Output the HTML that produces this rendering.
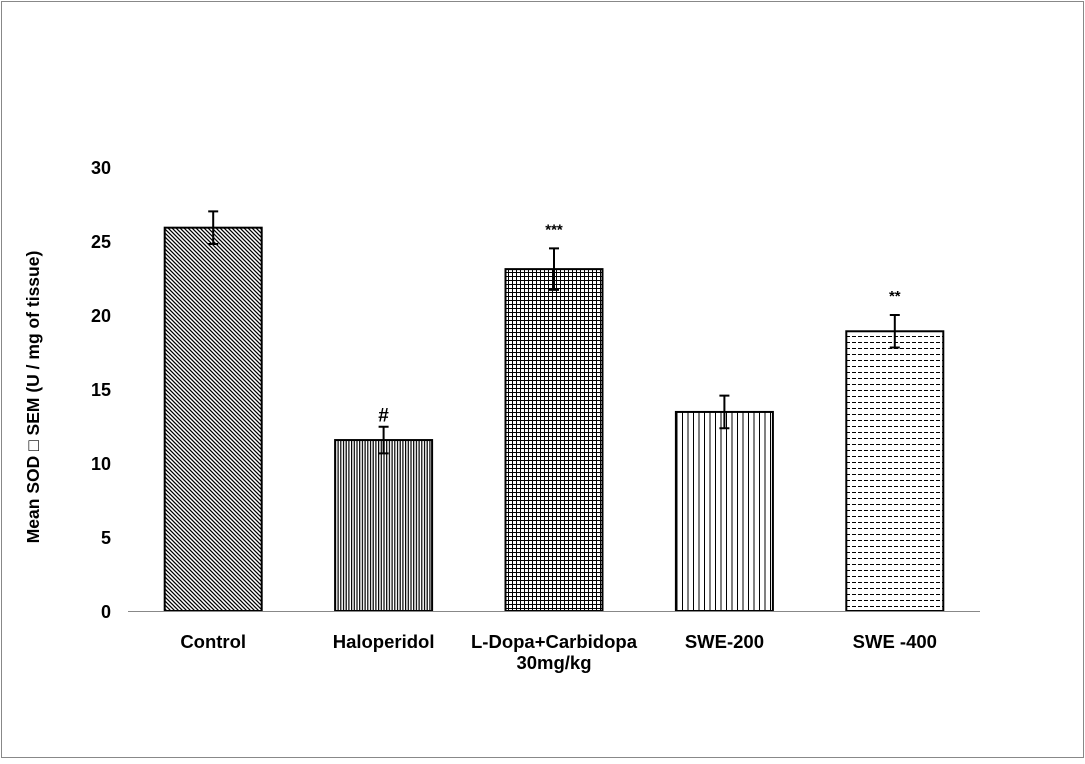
<!DOCTYPE html>
<html><head><meta charset="utf-8"><style>
body{margin:0;background:#fff;width:1085px;height:759px;overflow:hidden}
svg text{font-family:"Liberation Sans",Arial,sans-serif;font-weight:bold;fill:#000}
</style></head><body>
<svg width="1085" height="759" id="chart">
<defs>
<pattern id="p0" width="4" height="4" patternUnits="userSpaceOnUse"><rect width="4" height="4" fill="#fff"/><path d="M-1,-1 L5,5 M-1,3 L1,5 M3,-1 L5,1" stroke="#000" stroke-width="1.3"/></pattern>
<pattern id="p1" width="2.7" height="4" patternUnits="userSpaceOnUse"><rect width="2.7" height="4" fill="#fff"/><rect x="0" width="1.2" height="4" fill="#000"/></pattern>
<pattern id="p2" width="4" height="4" patternUnits="userSpaceOnUse"><rect width="4" height="4" fill="#fff"/><rect x="0" width="1" height="4" fill="#000"/><rect y="0" width="4" height="1" fill="#000"/></pattern>
<pattern id="p3" width="5.5" height="4" patternUnits="userSpaceOnUse"><rect width="5.5" height="4" fill="#fff"/><rect x="0" width="1" height="4" fill="#000"/></pattern>
<pattern id="p4" width="6" height="6" patternUnits="userSpaceOnUse"><rect width="6" height="6" fill="#fff"/><rect x="0" y="0" width="4" height="1" fill="#000"/></pattern>
</defs>
<rect x="1.5" y="1.5" width="1082" height="756" fill="#fff" stroke="#888"/>
</svg>
<script>
const categories=["Control","Haloperidol","L-Dopa+Carbidopa|30mg/kg","SWE-200","SWE -400"];
const values=[25.9,11.55,23.1,13.45,18.9];
const errors=[1.1,0.9,1.4,1.1,1.1];
const marks=["","#","***","","**"];
const ticks=[0,5,10,15,20,25,30];
const svg=document.getElementById('chart');
const NS='http://www.w3.org/2000/svg';
const x0=128,x1=980,y0=611,y30=167;
const y=v=>y0-(v/30)*(y0-y30);
const step=(x1-x0)/categories.length;
const cx=i=>x0+step*(i+0.5);
function mk(t,a){const e=document.createElementNS(NS,t);for(const k in a)e.setAttribute(k,a[k]);svg.appendChild(e);return e;}
ticks.forEach(t=>{const e=mk('text',{x:111,y:y(t)+7,'text-anchor':'end','font-size':18});e.textContent=t;

});
const yt=mk('text',{transform:'translate(39,397) rotate(-90)','text-anchor':'middle','font-size':17.5});
yt.textContent='Mean SOD \u25A1 SEM  (U / mg of tissue)';


categories.forEach((c,i)=>{
const bw=97,bx=cx(i)-bw/2;
const r=mk('rect',{x:bx,y:y(values[i]),width:bw,height:y0-y(values[i]),fill:'url(#p'+i+')',stroke:'#000','stroke-width':2});


const g=mk('path',{d:`M${cx(i)},${y(values[i]+errors[i])}V${y(values[i]-errors[i])}M${cx(i)-5},${y(values[i]+errors[i])}h10M${cx(i)-5},${y(values[i]-errors[i])}h10`,stroke:'#000','stroke-width':2,fill:'none'});


if(marks[i]){const m=mk('text',{x:cx(i),y:y(values[i]+errors[i])-(marks[i]=='#'?5:14),'text-anchor':'middle','font-size':marks[i]=='#'?19:15,'font-weight':'normal'});m.textContent=marks[i];

}
c.split('|').forEach((ln,j)=>{const l=mk('text',{x:cx(i),y:648+j*21,'text-anchor':'middle','font-size':18.5});l.textContent=ln;

});
});
const ax=mk('line',{x1:x0,x2:x1,y1:y0+0.5,y2:y0+0.5,stroke:'#888','stroke-width':1});


</script>
</body></html>
